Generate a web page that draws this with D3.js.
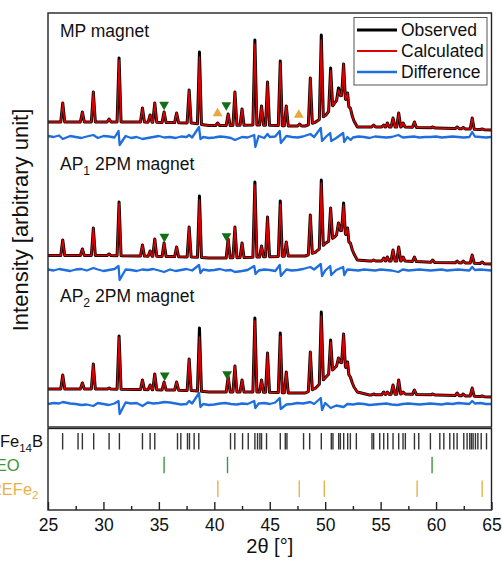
<!DOCTYPE html>
<html>
<head>
<meta charset="utf-8">
<script src="https://cdn.jsdelivr.net/npm/d3@7"></script>
<style>
  body { margin: 0; background: #fff; }
  text { font-family: "Liberation Sans", Arial, sans-serif; fill: #111; }
</style>
</head>
<body>
<div id="chart"></div>
<script>
// peak positions (2theta) shared by the three patterns
const peakPos = [26.33, 28.10, 29.09, 30.51, 31.41, 33.52, 34.21, 34.63, 35.47, 36.60,
  37.73, 38.66, 40.30, 41.25, 41.86, 42.50, 43.66, 44.26, 44.80, 45.95,
  46.49, 47.70, 48.66, 49.65, 50.49, 51.20, 51.66, 52.02, 52.27, 54.37,
  55.28, 55.60, 56.12, 56.63, 57.03, 58.05, 59.70, 61.90, 62.45, 63.26, 64.16]

// observed peak tops (arbitrary unit above each pattern's zero), null = no peak
const mpObs = [34, 25, 45, 18, 79, 29, 22, 34, 25, 24,
  47, 85, 14, 23, 45, 28, 97, 31, 55, 76,
  31, 13, 59, 102, 69, 49, 73, 44, 29, 12,
  12, 14, 19, 24, 14, 15, 10, 10, 9.5, 19, 8]
const ap1Obs = [30, 21, 42, 16, 68, 25, 19, 31, 27, 23,
  43, 74, null, 31, 43, 27, 88, 24, 53, 69,
  28, null, 55, 90, 62, 47, 67, 42, 27, 10,
  12, 13, 20, 23, 13, 13, 10, 9, 9, 15, 8]
const ap2Obs = [29, 21, 40, 16, 68, 24, 19, 30, 22, 22,
  45, 76, null, 27, 38, 24, 86, 24, 51, 71,
  32, null, 52, 92, 64, 46, 70, 42, 27, 10,
  12, 12, 19, 24, 12, 14, 10, 11, 10, 16, 8]

// how much the calculated peak stays below the observed one
const mpCalcGap = [[31.41, 2], [38.66, 5], [43.66, 4], [45.95, 2], [49.65, 5], [50.49, 3], [51.20, 2]]
const ap1CalcGap = [[31.41, 1], [38.66, 4], [43.66, 3], [45.95, 3], [49.65, 3], [51.66, 2]]
const ap2CalcGap = [[31.41, 1], [38.66, 9], [43.66, 3], [45.95, 3], [49.65, 4], [50.49, 2]]

// background between peaks
const bgPos = [25, 30, 33, 36, 38, 39.5, 41, 44, 47, 48.2, 49.15, 50.07, 50.85, 51.43, 51.84, 52.15, 52.6, 52.9, 54, 57, 60, 63, 65]
const mpBg = [15, 15, 15, 14.5, 14, 11.5, 11.5, 12, 11, 11, 15, 22, 34, 42, 38, 30, 16, 10, 10, 10, 9, 8, 7]
const ap1Bg = [14.5, 14.5, 14, 13.5, 13, 12, 12, 13, 14, 14, 18, 27, 33, 40, 36, 28, 16, 10, 9, 9, 7.5, 7, 6]
const ap2Bg = [15, 15, 14.5, 14, 13.5, 12, 12, 12, 11, 11, 16, 27, 36, 42, 37, 29, 17, 12, 9, 10, 9, 8, 7]

// difference curves: values every 0.5 deg from 25 to 65, plus spikes at strong peaks
const mpDiff = [1, 0, 1.5, -0.5, 1, 0, -1, 0.5, 0, -1,
  1, 0.5, -0.5, 0, 1, -1, 0, 0.5, -1, 0,
  1, -0.5, 0, -1, 0.5, 0, -0.5, 1, 0, -1,
  -0.5, 0.5, 0, -1, 1, 0, -0.5, 0.5, 1, -1,
  0, 0.5, -1.5, 1, 0, -0.5, 0.5, -1, 0, 1,
  -0.5, 0, -1, 0.5, 0, -0.5, 0.5, 0, -1, 0.5,
  0, -0.5, 0, 0.5, -0.5, 0, 0.5, -0.5, 0, 0,
  0.5, -0.5, 0, 0.5, 0, -0.5, 0, 0.5, 0, -0.5, 0]
const ap1Diff = [0.5, -0.5, 1, 0, -1, 0.5, 1, -0.5, 0, 0.5,
  -1, 0, 1, -0.5, 0.5, 0, -1, 0.5, 0, 1,
  -0.5, 0, 0.5, -1, 0, 1, -0.5, 0, 0.5, -0.5,
  0, 1, -0.5, 0, 0.5, -1, 0, 1, -0.5, 0.5,
  0, -1, 1, 0.5, -0.5, 0, 1, -1, 0.5, 0,
  -0.5, 1, 0, -1, 0.5, 0, -0.5, 0.5, 0, -0.5,
  0.5, 0, -0.5, 0, 0.5, -0.5, 0, 0.5, 0, -0.5,
  0, 0.5, -0.5, 0, 0.5, 0, -0.5, 0, 0.5, 0, -0.5]
const ap2Diff = [0, 1, 0.5, 1.5, 0.5, 0, -1, -0.5, 0.5, 1,
  0, -1, 0.5, 1, 1.5, 0.5, 1, 2, 1.5, 0.5,
  1, 0, 1.5, 0.5, -0.5, 0, 0.5, 1, 0, -1,
  -0.5, 0.5, 1, 0, -0.5, 0.5, 0, -1, 0.5, 1,
  0, 1.5, 0.5, -0.5, 0, 1, 0.5, -0.5, 0, 0.5,
  1, -0.5, -1.5, -1, 0, -0.5, 0.5, 0, -1, -0.5,
  0, 0.5, -0.5, -1, 0, 0.5, 0, -0.5, 0, 0.5,
  0, -0.5, 0.5, 0, 1, 0.5, 0, 0.5, 1, 0, 0]
const mpSpikes = [[26.33, -2], [29.09, 2], [31.36, 6], [31.46, -8], [33.52, -2], [37.73, 2], [38.62, 10], [38.75, -2],
  [41.86, -3], [43.6, 2], [43.7, -10], [44.8, 3], [45.9, 6], [46.0, -6], [48.66, 3], [49.6, 9], [49.72, -4],
  [50.45, 4], [50.55, -4], [51.62, 4], [51.72, -5], [52.3, -3], [56.6, 2], [63.26, 5]]
const ap1Spikes = [[29.09, 2], [31.36, 4], [31.46, -10], [35.47, -2], [38.62, 5], [38.75, -3], [41.86, -2],
  [43.6, 4], [43.72, -4], [45.9, 5], [46.0, -6], [48.66, 3], [49.6, 6], [49.72, -6], [50.45, 4], [50.55, -5],
  [51.62, 3], [51.72, -5], [56.6, -2], [63.26, 3]]
const ap2Spikes = [[26.33, 2], [29.09, -2], [31.36, 3], [31.46, -10], [33.52, -2], [35.5, 2], [37.73, 3],
  [38.62, 11], [38.75, -3], [43.6, 3], [43.7, -4], [45.9, 6], [45.99, -5], [48.66, 2], [49.6, 6], [49.72, -6],
  [50.5, -4], [51.66, -3], [63.26, 3]]

// phase markers above the peaks: [2theta, height, phase]
const mpMarks = [[35.47, 32.5, 'REO'], [41.08, 32, 'REO'], [40.29, 23.5, 'REFe2'], [47.62, 22, 'REFe2']]
const ap1Marks = [[35.5, 33.3, 'REO'], [41.1, 34, 'REO']]
const ap2Marks = [[35.53, 28.7, 'REO'], [41.16, 30, 'REO']]

// reflection positions of each phase
const fe14bRefl = [26.32, 27.71, 28.10, 29.12, 30.51, 31.44, 33.52, 34.21, 34.63, 36.68, 36.98, 37.58, 37.76, 38.18,
  38.60, 41.46, 41.85, 42.55, 43.06, 43.66, 43.90, 44.11, 44.26, 44.71, 45.95, 46.40, 46.55, 48.05, 48.60,
  49.65, 50.55, 50.70, 51.22, 51.37, 51.67, 52.03, 52.27, 52.81, 54.22, 54.37, 54.92, 55.28, 55.64, 56.12,
  56.63, 57.02, 57.23, 58.05, 58.44, 59.49, 60.34, 60.70, 61.24, 61.60, 61.90, 62.50, 62.80, 63.04, 63.19,
  63.34, 63.55, 63.77, 64.07, 64.55]
const reoRefl = [35.47, 41.19, 59.64]
const refe2Refl = [40.32, 47.66, 49.92, 58.29, 64.16]

const xMajor = [25, 30, 35, 40, 45, 50, 55, 60, 65]
const xMinor = [27.5, 32.5, 37.5, 42.5, 47.5, 52.5, 57.5, 62.5]

const colors = { obs: '#000', calc: '#e00000', diff: '#1e6edc', REO: '#146e18', REFe2: '#e6a83a' }

const W = 502, H = 565
const svg = d3.select('#chart').append('svg').attr('width', W).attr('height', H)

const x = d3.scaleLinear().domain([25, 65]).range([48, 491.5])
const y = d3.scaleLinear().domain([0, 414]).range([427, 13])
const upper = { y0: 13, y1: 427 }
const lower = { y0: 428.5, y1: 510 }

svg.append('clipPath').attr('id', 'clip')
  .append('rect').attr('x', x(25)).attr('y', upper.y0).attr('width', x(65) - x(25)).attr('height', upper.y1 - upper.y0)

function profile(apex, bg, gaps) {
  const base = d3.scaleLinear().domain(bgPos).range(bg)
  const active = peakPos.map((p, i) => ({ p, v: apex[i] })).filter(d => d.v != null)
  const pts = []
  const spans = []
  active.forEach((d, i) => {
    const gl = i > 0 ? d.p - active[i - 1].p : 1
    const gr = i < active.length - 1 ? active[i + 1].p - d.p : 1
    const l = d.p - Math.min(0.18, gl * 0.45)
    const r = d.p + Math.min(0.18, gr * 0.45)
    const g = gaps.find(q => Math.abs(q[0] - d.p) < 0.02)
    pts.push([l, base(l), base(l)], [d.p, d.v, d.v - (g ? g[1] : 0)], [r, base(r), base(r)])
    spans.push([l, r])
  })
  bgPos.forEach((p, i) => {
    if (!spans.some(s => p > s[0] && p < s[1])) pts.push([p, bg[i], bg[i]])
  })
  return pts.sort((a, b) => a[0] - b[0])
}

const diffGrid = d3.range(25, 65.001, 0.5)
function diffPoints(noise, spikes) {
  return diffGrid.map((p, i) => [p, noise[i]])
    .filter(d => !spikes.some(s => Math.abs(s[0] - d[0]) < 0.2))
    .concat(spikes)
    .sort((a, b) => a[0] - b[0])
}

const panels = [
  { offset: 290, obs: mpObs, bg: mpBg, gap: mpCalcGap, diff: mpDiff, spikes: mpSpikes, marks: mpMarks },
  { offset: 157, obs: ap1Obs, bg: ap1Bg, gap: ap1CalcGap, diff: ap1Diff, spikes: ap1Spikes, marks: ap1Marks },
  { offset: 23, obs: ap2Obs, bg: ap2Bg, gap: ap2CalcGap, diff: ap2Diff, spikes: ap2Spikes, marks: ap2Marks }
]

const plot = svg.append('g').attr('clip-path', 'url(#clip)')

panels.forEach(pn => {
  const pts = profile(pn.obs, pn.bg, pn.gap)
  const dpts = diffPoints(pn.diff, pn.spikes)

  plot.append('path')
    .attr('d', d3.line().x(d => x(d[0])).y(d => y(pn.offset + d[1]))(dpts))
    .attr('fill', 'none').attr('stroke', colors.diff).attr('stroke-width', 2.3)
    .attr('stroke-linejoin', 'round')

  plot.append('path')
    .attr('d', d3.line().x(d => x(d[0])).y(d => y(pn.offset + d[1]))(pts))
    .attr('fill', 'none').attr('stroke', colors.obs).attr('stroke-width', 3)
    .attr('stroke-linejoin', 'round')

  plot.append('path')
    .attr('d', d3.line().x(d => x(d[0])).y(d => y(pn.offset + d[2]))(pts))
    .attr('fill', 'none').attr('stroke', colors.calc).attr('stroke-width', 1.5)
    .attr('stroke-linejoin', 'round')

  const tri = d3.symbol(d3.symbolTriangle, 42)
  plot.selectAll(null).data(pn.marks).enter().append('path')
    .attr('d', tri)
    .attr('transform', d => `translate(${x(d[0])},${y(pn.offset + d[1])}) rotate(${d[2] === 'REO' ? 180 : 0})`)
    .attr('fill', d => colors[d[2]])
})

// frames
svg.append('rect').attr('x', x(25)).attr('y', upper.y0).attr('width', x(65) - x(25)).attr('height', upper.y1 - upper.y0)
  .attr('fill', 'none').attr('stroke', '#222').attr('stroke-width', 1.4)
svg.append('rect').attr('x', x(25)).attr('y', lower.y0).attr('width', x(65) - x(25)).attr('height', lower.y1 - lower.y0)
  .attr('fill', 'none').attr('stroke', '#222').attr('stroke-width', 1.4)

// rich text helper: parts of [text, isSubscript]
function richText(g, parts, px, py, size, anchor, color) {
  const t = g.append('text').attr('x', px).attr('y', py).attr('font-size', size)
    .attr('text-anchor', anchor).style('fill', color || '#111')
  let sub = false
  parts.forEach(p => {
    const s = t.append('tspan').text(p[0])
    if (p[1] && !sub) s.attr('dy', size * 0.28)
    if (!p[1] && sub) s.attr('dy', -size * 0.28)
    if (p[1]) s.attr('font-size', size * 0.7)
    sub = p[1]
  })
  return t
}

// panel labels
richText(svg, [['MP magnet', 0]], 60, 37, 17.5, 'start')
richText(svg, [['AP', 0], ['1', 1], [' 2PM magnet', 0]], 60, 170, 17.5, 'start')
richText(svg, [['AP', 0], ['2', 1], [' 2PM magnet', 0]], 60, 302, 17.5, 'start')

// legend
const legend = svg.append('g')
legend.append('rect').attr('x', 354).attr('y', 17.5).attr('width', 133).attr('height', 67.5)
  .attr('fill', '#fff').attr('stroke', '#555').attr('stroke-width', 1)
const legendItems = [['Observed', colors.obs, 3], ['Calculated', colors.calc, 2], ['Difference', colors.diff, 2.6]]
legendItems.forEach((d, i) => {
  const ly = 30 + i * 21
  legend.append('line').attr('x1', 357).attr('x2', 397).attr('y1', ly).attr('y2', ly)
    .attr('stroke', d[1]).attr('stroke-width', d[2])
  legend.append('text').attr('x', 401).attr('y', ly + 6).attr('font-size', 17.5).text(d[0])
})

// reflection rows
const rows = ['RE2Fe14B', 'REO', 'REFe2']
const rowY = d3.scalePoint().domain(rows).range([441.3, 488.7])
const rowData = [
  { key: 'RE2Fe14B', refl: fe14bRefl, color: '#333' },
  { key: 'REO', refl: reoRefl, color: '#3a973a' },
  { key: 'REFe2', refl: refe2Refl, color: '#e8b24a' }
]
rowData.forEach(r => {
  svg.selectAll(null).data(r.refl).enter().append('line')
    .attr('x1', d => x(d)).attr('x2', d => x(d))
    .attr('y1', rowY(r.key) - 8.2).attr('y2', rowY(r.key) + 8.2)
    .attr('stroke', r.color).attr('stroke-width', 1.4)
})
richText(svg, [['RE', 0], ['2', 1], ['Fe', 0], ['14', 1], ['B', 0]], 43, rowY('RE2Fe14B') + 6, 16.5, 'end', '#111')
richText(svg, [['REO', 0]], 19.5, rowY('REO') + 6, 16.5, 'end', '#3a973a')
richText(svg, [['REFe', 0], ['2', 1]], 38.5, rowY('REFe2') + 6, 16.5, 'end', '#e8b24a')

// x axis: ticks point inward
const axMajor = svg.append('g').attr('transform', `translate(0,${lower.y1})`)
  .call(d3.axisBottom(x).tickValues(xMajor).tickSize(-8).tickPadding(9).tickFormat(d3.format('d')))
axMajor.select('.domain').remove()
axMajor.selectAll('.tick line').attr('stroke', '#222').attr('stroke-width', 1.4)
axMajor.selectAll('.tick text').attr('font-size', 17.5).attr('font-family', '"Liberation Sans", Arial, sans-serif').style('fill', '#111')

const axMinor = svg.append('g').attr('transform', `translate(0,${lower.y1})`)
  .call(d3.axisBottom(x).tickValues(xMinor).tickSize(-4).tickFormat(''))
axMinor.select('.domain').remove()
axMinor.selectAll('.tick line').attr('stroke', '#222').attr('stroke-width', 1.4)

// axis titles
svg.append('text').attr('x', (x(25) + x(65)) / 2).attr('y', 553).attr('text-anchor', 'middle')
  .attr('font-size', 20).text('2θ [°]')
svg.append('text').attr('transform', `translate(28,${(upper.y0 + upper.y1) / 2}) rotate(-90)`)
  .attr('text-anchor', 'middle').attr('font-size', 22).text('Intensity [arbitrary unit]')
</script>
</body>
</html>
